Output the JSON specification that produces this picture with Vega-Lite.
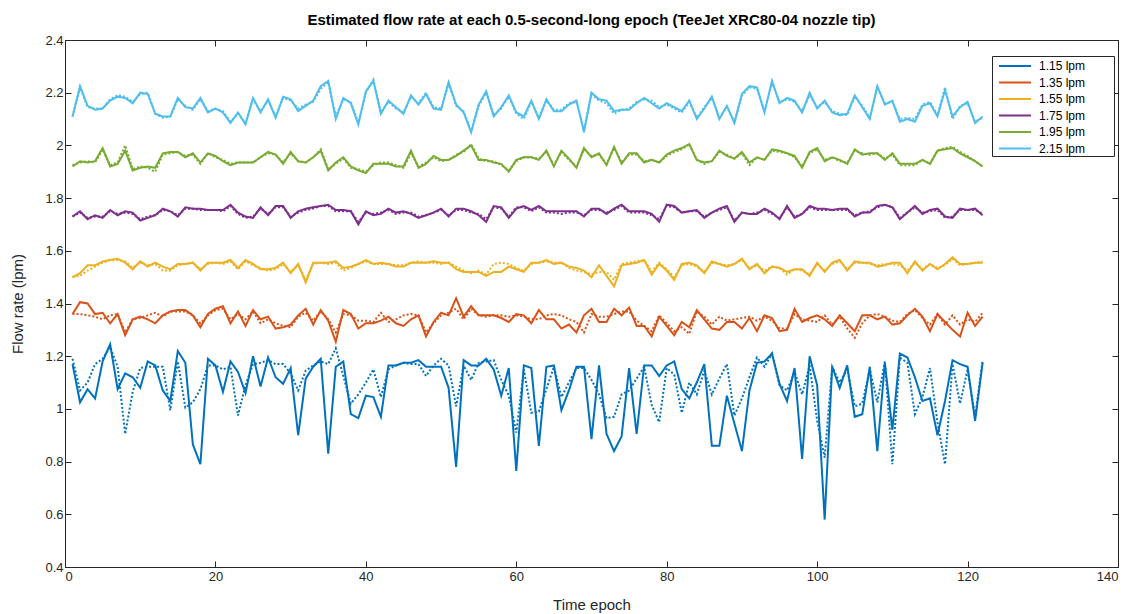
{
"$schema": "https://vega.github.io/schema/vega-lite/v6.json",
"width": 1053, "height": 527,
"autosize": {"type": "none"},
"padding": {"left": 65, "top": 40, "right": 12, "bottom": 47},
"background": "white",
"title": {"text": "Estimated flow rate at each 0.5-second-long epoch (TeeJet XRC80-04 nozzle tip)", "fontSize": 15, "fontWeight": "bold", "font": "Liberation Sans", "color": "black", "offset": 6, "anchor": "middle"},
"config": {
  "view": {"stroke": "#262626", "strokeWidth": 1},
  "axis": {"grid": false, "domainColor": "#262626", "tickColor": "#262626", "labelColor": "#262626", "titleColor": "#262626", "labelFont": "Liberation Sans", "titleFont": "Liberation Sans", "labelFontSize": 13, "titleFontSize": 15, "titleFontWeight": "normal", "tickSize": -6}
},
"data": {"values": [
{"t":1,"s1":1.17,"s2":1.36,"s3":1.50,"s4":1.73,"s5":1.92,"s6":2.11,"d1":1.19,"d2":1.36,"d3":1.50,"d4":1.73,"d5":1.925,"d6":2.11},
{"t":2,"s1":1.025,"s2":1.405,"s3":1.515,"s4":1.75,"s5":1.94,"s6":2.225,"d1":1.07,"d2":1.36,"d3":1.505,"d4":1.745,"d5":1.935,"d6":2.22},
{"t":3,"s1":1.075,"s2":1.40,"s3":1.545,"s4":1.72,"s5":1.935,"s6":2.15,"d1":1.10,"d2":1.355,"d3":1.525,"d4":1.725,"d5":1.94,"d6":2.145},
{"t":4,"s1":1.04,"s2":1.36,"s3":1.545,"s4":1.735,"s5":1.94,"s6":2.135,"d1":1.17,"d2":1.35,"d3":1.54,"d4":1.73,"d5":1.935,"d6":2.14},
{"t":5,"s1":1.18,"s2":1.365,"s3":1.56,"s4":1.725,"s5":1.99,"s6":2.14,"d1":1.19,"d2":1.34,"d3":1.555,"d4":1.73,"d5":1.985,"d6":2.14},
{"t":6,"s1":1.245,"s2":1.325,"s3":1.565,"s4":1.755,"s5":1.92,"s6":2.17,"d1":1.235,"d2":1.355,"d3":1.565,"d4":1.75,"d5":1.925,"d6":2.175},
{"t":7,"s1":1.075,"s2":1.36,"s3":1.57,"s4":1.735,"s5":1.93,"s6":2.185,"d1":1.16,"d2":1.36,"d3":1.565,"d4":1.74,"d5":1.935,"d6":2.19},
{"t":8,"s1":1.135,"s2":1.28,"s3":1.555,"s4":1.75,"s5":1.98,"s6":2.18,"d1":0.905,"d2":1.29,"d3":1.56,"d4":1.745,"d5":2.0,"d6":2.185},
{"t":9,"s1":1.12,"s2":1.34,"s3":1.53,"s4":1.745,"s5":1.905,"s6":2.16,"d1":1.065,"d2":1.34,"d3":1.535,"d4":1.74,"d5":1.91,"d6":2.165},
{"t":10,"s1":1.08,"s2":1.35,"s3":1.56,"s4":1.715,"s5":1.915,"s6":2.2,"d1":1.155,"d2":1.345,"d3":1.555,"d4":1.72,"d5":1.92,"d6":2.195},
{"t":11,"s1":1.18,"s2":1.34,"s3":1.54,"s4":1.725,"s5":1.92,"s6":2.195,"d1":1.16,"d2":1.355,"d3":1.545,"d4":1.73,"d5":1.915,"d6":2.2},
{"t":12,"s1":1.165,"s2":1.325,"s3":1.555,"s4":1.735,"s5":1.915,"s6":2.12,"d1":1.16,"d2":1.365,"d3":1.55,"d4":1.735,"d5":1.90,"d6":2.12},
{"t":13,"s1":1.07,"s2":1.355,"s3":1.54,"s4":1.76,"s5":1.97,"s6":2.11,"d1":1.16,"d2":1.35,"d3":1.525,"d4":1.755,"d5":1.965,"d6":2.105},
{"t":14,"s1":1.03,"s2":1.37,"s3":1.53,"s4":1.75,"s5":1.975,"s6":2.11,"d1":0.995,"d2":1.37,"d3":1.525,"d4":1.75,"d5":1.97,"d6":2.11},
{"t":15,"s1":1.22,"s2":1.375,"s3":1.55,"s4":1.73,"s5":1.975,"s6":2.18,"d1":1.18,"d2":1.37,"d3":1.545,"d4":1.735,"d5":1.975,"d6":2.175},
{"t":16,"s1":1.175,"s2":1.375,"s3":1.55,"s4":1.765,"s5":1.955,"s6":2.145,"d1":1.005,"d2":1.37,"d3":1.55,"d4":1.76,"d5":1.96,"d6":2.15},
{"t":17,"s1":0.865,"s2":1.355,"s3":1.555,"s4":1.76,"s5":1.97,"s6":2.14,"d1":1.025,"d2":1.355,"d3":1.555,"d4":1.76,"d5":1.965,"d6":2.135},
{"t":18,"s1":0.79,"s2":1.31,"s3":1.525,"s4":1.76,"s5":1.935,"s6":2.18,"d1":1.075,"d2":1.325,"d3":1.53,"d4":1.755,"d5":1.93,"d6":2.175},
{"t":19,"s1":1.19,"s2":1.36,"s3":1.555,"s4":1.755,"s5":1.97,"s6":2.125,"d1":1.165,"d2":1.355,"d3":1.55,"d4":1.755,"d5":1.97,"d6":2.13},
{"t":20,"s1":1.165,"s2":1.38,"s3":1.555,"s4":1.755,"s5":1.96,"s6":2.14,"d1":1.165,"d2":1.375,"d3":1.555,"d4":1.755,"d5":1.955,"d6":2.14},
{"t":21,"s1":1.065,"s2":1.39,"s3":1.555,"s4":1.755,"s5":1.94,"s6":2.125,"d1":1.15,"d2":1.38,"d3":1.55,"d4":1.75,"d5":1.945,"d6":2.13},
{"t":22,"s1":1.18,"s2":1.325,"s3":1.565,"s4":1.775,"s5":1.925,"s6":2.085,"d1":1.16,"d2":1.34,"d3":1.56,"d4":1.77,"d5":1.93,"d6":2.09},
{"t":23,"s1":1.14,"s2":1.37,"s3":1.535,"s4":1.745,"s5":1.935,"s6":2.125,"d1":0.975,"d2":1.36,"d3":1.53,"d4":1.74,"d5":1.935,"d6":2.12},
{"t":24,"s1":1.06,"s2":1.315,"s3":1.565,"s4":1.73,"s5":1.935,"s6":2.08,"d1":1.09,"d2":1.34,"d3":1.56,"d4":1.725,"d5":1.935,"d6":2.085},
{"t":25,"s1":1.2,"s2":1.375,"s3":1.55,"s4":1.725,"s5":1.935,"s6":2.18,"d1":1.17,"d2":1.37,"d3":1.545,"d4":1.73,"d5":1.935,"d6":2.175},
{"t":26,"s1":1.085,"s2":1.34,"s3":1.53,"s4":1.765,"s5":1.955,"s6":2.125,"d1":1.175,"d2":1.325,"d3":1.535,"d4":1.76,"d5":1.955,"d6":2.13},
{"t":27,"s1":1.195,"s2":1.35,"s3":1.53,"s4":1.735,"s5":1.975,"s6":2.175,"d1":1.185,"d2":1.34,"d3":1.525,"d4":1.74,"d5":1.97,"d6":2.17},
{"t":28,"s1":1.12,"s2":1.305,"s3":1.535,"s4":1.77,"s5":1.965,"s6":2.105,"d1":1.17,"d2":1.325,"d3":1.53,"d4":1.765,"d5":1.965,"d6":2.11},
{"t":29,"s1":1.095,"s2":1.31,"s3":1.555,"s4":1.77,"s5":1.93,"s6":2.185,"d1":1.17,"d2":1.315,"d3":1.55,"d4":1.765,"d5":1.935,"d6":2.18},
{"t":30,"s1":1.155,"s2":1.32,"s3":1.515,"s4":1.725,"s5":1.975,"s6":2.175,"d1":1.135,"d2":1.31,"d3":1.52,"d4":1.73,"d5":1.97,"d6":2.17},
{"t":31,"s1":0.9,"s2":1.355,"s3":1.55,"s4":1.75,"s5":1.94,"s6":2.13,"d1":1.07,"d2":1.35,"d3":1.545,"d4":1.745,"d5":1.94,"d6":2.14},
{"t":32,"s1":1.115,"s2":1.38,"s3":1.48,"s4":1.76,"s5":1.935,"s6":2.15,"d1":1.145,"d2":1.365,"d3":1.49,"d4":1.755,"d5":1.935,"d6":2.155},
{"t":33,"s1":1.16,"s2":1.32,"s3":1.555,"s4":1.765,"s5":1.955,"s6":2.17,"d1":1.165,"d2":1.335,"d3":1.55,"d4":1.76,"d5":1.955,"d6":2.165},
{"t":34,"s1":1.19,"s2":1.375,"s3":1.555,"s4":1.77,"s5":1.98,"s6":2.225,"d1":1.18,"d2":1.37,"d3":1.555,"d4":1.77,"d5":1.985,"d6":2.215},
{"t":35,"s1":0.83,"s2":1.335,"s3":1.555,"s4":1.775,"s5":1.905,"s6":2.245,"d1":1.17,"d2":1.34,"d3":1.55,"d4":1.77,"d5":1.91,"d6":2.24},
{"t":36,"s1":1.16,"s2":1.255,"s3":1.56,"s4":1.755,"s5":1.935,"s6":2.10,"d1":1.23,"d2":1.29,"d3":1.555,"d4":1.75,"d5":1.93,"d6":2.11},
{"t":37,"s1":1.18,"s2":1.375,"s3":1.535,"s4":1.755,"s5":1.955,"s6":2.18,"d1":1.125,"d2":1.36,"d3":1.525,"d4":1.75,"d5":1.95,"d6":2.175},
{"t":38,"s1":0.98,"s2":1.36,"s3":1.54,"s4":1.75,"s5":1.92,"s6":2.16,"d1":1.02,"d2":1.355,"d3":1.535,"d4":1.75,"d5":1.915,"d6":2.165},
{"t":39,"s1":0.965,"s2":1.305,"s3":1.55,"s4":1.70,"s5":1.905,"s6":2.08,"d1":1.055,"d2":1.335,"d3":1.55,"d4":1.71,"d5":1.91,"d6":2.085},
{"t":40,"s1":1.05,"s2":1.325,"s3":1.565,"s4":1.75,"s5":1.895,"s6":2.205,"d1":1.10,"d2":1.335,"d3":1.56,"d4":1.745,"d5":1.90,"d6":2.2},
{"t":41,"s1":1.045,"s2":1.325,"s3":1.55,"s4":1.735,"s5":1.93,"s6":2.245,"d1":1.15,"d2":1.33,"d3":1.55,"d4":1.74,"d5":1.925,"d6":2.25},
{"t":42,"s1":0.97,"s2":1.335,"s3":1.555,"s4":1.74,"s5":1.93,"s6":2.12,"d1":1.045,"d2":1.365,"d3":1.55,"d4":1.745,"d5":1.935,"d6":2.125},
{"t":43,"s1":1.165,"s2":1.35,"s3":1.55,"s4":1.76,"s5":1.93,"s6":2.17,"d1":1.15,"d2":1.33,"d3":1.55,"d4":1.755,"d5":1.935,"d6":2.165},
{"t":44,"s1":1.165,"s2":1.325,"s3":1.54,"s4":1.745,"s5":1.92,"s6":2.145,"d1":1.165,"d2":1.34,"d3":1.545,"d4":1.74,"d5":1.925,"d6":2.14},
{"t":45,"s1":1.175,"s2":1.315,"s3":1.54,"s4":1.75,"s5":1.92,"s6":2.12,"d1":1.175,"d2":1.355,"d3":1.545,"d4":1.745,"d5":1.915,"d6":2.125},
{"t":46,"s1":1.175,"s2":1.34,"s3":1.555,"s4":1.74,"s5":1.98,"s6":2.19,"d1":1.17,"d2":1.36,"d3":1.555,"d4":1.745,"d5":1.97,"d6":2.185},
{"t":47,"s1":1.185,"s2":1.355,"s3":1.555,"s4":1.725,"s5":1.915,"s6":2.155,"d1":1.17,"d2":1.355,"d3":1.56,"d4":1.73,"d5":1.92,"d6":2.16},
{"t":48,"s1":1.16,"s2":1.275,"s3":1.555,"s4":1.735,"s5":1.93,"s6":2.195,"d1":1.125,"d2":1.29,"d3":1.555,"d4":1.735,"d5":1.935,"d6":2.2},
{"t":49,"s1":1.16,"s2":1.33,"s3":1.56,"s4":1.745,"s5":1.96,"s6":2.14,"d1":1.165,"d2":1.325,"d3":1.555,"d4":1.745,"d5":1.955,"d6":2.145},
{"t":50,"s1":1.16,"s2":1.365,"s3":1.555,"s4":1.76,"s5":1.945,"s6":2.135,"d1":1.19,"d2":1.355,"d3":1.55,"d4":1.755,"d5":1.94,"d6":2.14},
{"t":51,"s1":1.08,"s2":1.355,"s3":1.555,"s4":1.73,"s5":1.945,"s6":2.24,"d1":1.165,"d2":1.365,"d3":1.555,"d4":1.735,"d5":1.945,"d6":2.235},
{"t":52,"s1":0.78,"s2":1.42,"s3":1.53,"s4":1.76,"s5":1.96,"s6":2.155,"d1":1.01,"d2":1.38,"d3":1.54,"d4":1.755,"d5":1.965,"d6":2.15},
{"t":53,"s1":1.185,"s2":1.35,"s3":1.52,"s4":1.76,"s5":1.98,"s6":2.125,"d1":1.165,"d2":1.34,"d3":1.525,"d4":1.755,"d5":1.975,"d6":2.13},
{"t":54,"s1":1.165,"s2":1.39,"s3":1.52,"s4":1.75,"s5":2.0,"s6":2.05,"d1":1.11,"d2":1.38,"d3":1.515,"d4":1.745,"d5":2.005,"d6":2.055},
{"t":55,"s1":1.165,"s2":1.355,"s3":1.52,"s4":1.735,"s5":1.945,"s6":2.155,"d1":1.175,"d2":1.355,"d3":1.525,"d4":1.74,"d5":1.95,"d6":2.15},
{"t":56,"s1":1.19,"s2":1.355,"s3":1.505,"s4":1.71,"s5":1.945,"s6":2.205,"d1":1.18,"d2":1.35,"d3":1.51,"d4":1.72,"d5":1.94,"d6":2.2},
{"t":57,"s1":1.15,"s2":1.355,"s3":1.52,"s4":1.77,"s5":1.935,"s6":2.11,"d1":1.185,"d2":1.355,"d3":1.55,"d4":1.765,"d5":1.94,"d6":2.115},
{"t":58,"s1":1.05,"s2":1.345,"s3":1.52,"s4":1.765,"s5":1.93,"s6":2.145,"d1":1.11,"d2":1.355,"d3":1.555,"d4":1.76,"d5":1.925,"d6":2.14},
{"t":59,"s1":1.155,"s2":1.33,"s3":1.54,"s4":1.725,"s5":1.90,"s6":2.19,"d1":1.05,"d2":1.35,"d3":1.55,"d4":1.73,"d5":1.905,"d6":2.185},
{"t":60,"s1":0.765,"s2":1.36,"s3":1.53,"s4":1.76,"s5":1.945,"s6":2.125,"d1":0.91,"d2":1.355,"d3":1.535,"d4":1.765,"d5":1.94,"d6":2.12},
{"t":61,"s1":1.165,"s2":1.355,"s3":1.52,"s4":1.77,"s5":1.955,"s6":2.11,"d1":1.15,"d2":1.35,"d3":1.525,"d4":1.765,"d5":1.955,"d6":2.10},
{"t":62,"s1":1.155,"s2":1.325,"s3":1.555,"s4":1.755,"s5":1.955,"s6":2.17,"d1":0.985,"d2":1.34,"d3":1.55,"d4":1.75,"d5":1.955,"d6":2.165},
{"t":63,"s1":0.86,"s2":1.375,"s3":1.555,"s4":1.77,"s5":1.945,"s6":2.10,"d1":0.99,"d2":1.34,"d3":1.555,"d4":1.765,"d5":1.95,"d6":2.105},
{"t":64,"s1":1.16,"s2":1.34,"s3":1.565,"s4":1.75,"s5":1.98,"s6":2.175,"d1":1.075,"d2":1.355,"d3":1.56,"d4":1.745,"d5":1.975,"d6":2.17},
{"t":65,"s1":1.165,"s2":1.34,"s3":1.55,"s4":1.75,"s5":1.92,"s6":2.13,"d1":1.16,"d2":1.36,"d3":1.555,"d4":1.745,"d5":1.925,"d6":2.135},
{"t":66,"s1":0.995,"s2":1.305,"s3":1.555,"s4":1.75,"s5":1.98,"s6":2.13,"d1":1.045,"d2":1.355,"d3":1.555,"d4":1.74,"d5":1.975,"d6":2.135},
{"t":67,"s1":1.07,"s2":1.32,"s3":1.54,"s4":1.75,"s5":1.95,"s6":2.155,"d1":1.10,"d2":1.34,"d3":1.535,"d4":1.745,"d5":1.945,"d6":2.16},
{"t":68,"s1":1.16,"s2":1.29,"s3":1.535,"s4":1.75,"s5":1.915,"s6":2.17,"d1":1.155,"d2":1.33,"d3":1.525,"d4":1.745,"d5":1.92,"d6":2.165},
{"t":69,"s1":1.16,"s2":1.355,"s3":1.525,"s4":1.73,"s5":1.99,"s6":2.05,"d1":1.155,"d2":1.29,"d3":1.52,"d4":1.735,"d5":1.985,"d6":2.06},
{"t":70,"s1":0.885,"s2":1.38,"s3":1.50,"s4":1.76,"s5":1.955,"s6":2.2,"d1":1.11,"d2":1.36,"d3":1.51,"d4":1.755,"d5":1.96,"d6":2.195},
{"t":71,"s1":1.165,"s2":1.33,"s3":1.545,"s4":1.76,"s5":1.97,"s6":2.175,"d1":1.055,"d2":1.35,"d3":1.52,"d4":1.755,"d5":1.965,"d6":2.17},
{"t":72,"s1":0.905,"s2":1.33,"s3":1.505,"s4":1.74,"s5":1.925,"s6":2.17,"d1":0.965,"d2":1.35,"d3":1.52,"d4":1.745,"d5":1.93,"d6":2.16},
{"t":73,"s1":0.84,"s2":1.38,"s3":1.465,"s4":1.76,"s5":1.995,"s6":2.13,"d1":0.97,"d2":1.36,"d3":1.49,"d4":1.755,"d5":1.99,"d6":2.12},
{"t":74,"s1":0.895,"s2":1.355,"s3":1.545,"s4":1.775,"s5":1.93,"s6":2.135,"d1":1.055,"d2":1.37,"d3":1.55,"d4":1.77,"d5":1.935,"d6":2.135},
{"t":75,"s1":1.155,"s2":1.385,"s3":1.55,"s4":1.75,"s5":1.97,"s6":2.135,"d1":1.07,"d2":1.37,"d3":1.555,"d4":1.745,"d5":1.965,"d6":2.14},
{"t":76,"s1":0.905,"s2":1.315,"s3":1.555,"s4":1.75,"s5":1.97,"s6":2.16,"d1":1.115,"d2":1.335,"d3":1.56,"d4":1.745,"d5":1.965,"d6":2.165},
{"t":77,"s1":1.165,"s2":1.315,"s3":1.565,"s4":1.75,"s5":1.935,"s6":2.18,"d1":1.16,"d2":1.315,"d3":1.565,"d4":1.745,"d5":1.94,"d6":2.175},
{"t":78,"s1":1.165,"s2":1.275,"s3":1.51,"s4":1.74,"s5":1.945,"s6":2.16,"d1":1.015,"d2":1.295,"d3":1.52,"d4":1.735,"d5":1.945,"d6":2.17},
{"t":79,"s1":1.125,"s2":1.35,"s3":1.55,"s4":1.71,"s5":1.935,"s6":2.14,"d1":0.95,"d2":1.355,"d3":1.555,"d4":1.72,"d5":1.935,"d6":2.145},
{"t":80,"s1":1.165,"s2":1.315,"s3":1.525,"s4":1.775,"s5":1.965,"s6":2.16,"d1":1.155,"d2":1.325,"d3":1.53,"d4":1.77,"d5":1.96,"d6":2.155},
{"t":81,"s1":1.18,"s2":1.28,"s3":1.49,"s4":1.77,"s5":1.98,"s6":2.145,"d1":1.13,"d2":1.295,"d3":1.5,"d4":1.765,"d5":1.975,"d6":2.14},
{"t":82,"s1":1.075,"s2":1.33,"s3":1.55,"s4":1.745,"s5":1.99,"s6":2.13,"d1":0.985,"d2":1.31,"d3":1.545,"d4":1.745,"d5":1.985,"d6":2.125},
{"t":83,"s1":1.04,"s2":1.31,"s3":1.555,"s4":1.75,"s5":2.005,"s6":2.17,"d1":1.10,"d2":1.285,"d3":1.55,"d4":1.75,"d5":2.005,"d6":2.165},
{"t":84,"s1":1.10,"s2":1.375,"s3":1.545,"s4":1.755,"s5":1.945,"s6":2.10,"d1":1.055,"d2":1.37,"d3":1.54,"d4":1.75,"d5":1.945,"d6":2.105},
{"t":85,"s1":1.17,"s2":1.34,"s3":1.515,"s4":1.725,"s5":1.935,"s6":2.14,"d1":1.145,"d2":1.35,"d3":1.52,"d4":1.73,"d5":1.93,"d6":2.145},
{"t":86,"s1":0.86,"s2":1.305,"s3":1.56,"s4":1.745,"s5":1.94,"s6":2.185,"d1":1.055,"d2":1.32,"d3":1.555,"d4":1.745,"d5":1.94,"d6":2.18},
{"t":87,"s1":0.86,"s2":1.30,"s3":1.55,"s4":1.76,"s5":1.98,"s6":2.10,"d1":1.115,"d2":1.35,"d3":1.55,"d4":1.755,"d5":1.975,"d6":2.105},
{"t":88,"s1":1.05,"s2":1.33,"s3":1.54,"s4":1.77,"s5":1.96,"s6":2.15,"d1":1.17,"d2":1.335,"d3":1.545,"d4":1.765,"d5":1.965,"d6":2.145},
{"t":89,"s1":0.945,"s2":1.33,"s3":1.55,"s4":1.71,"s5":1.95,"s6":2.085,"d1":0.975,"d2":1.34,"d3":1.55,"d4":1.715,"d5":1.95,"d6":2.09},
{"t":90,"s1":0.84,"s2":1.305,"s3":1.57,"s4":1.745,"s5":1.975,"s6":2.195,"d1":1.04,"d2":1.345,"d3":1.565,"d4":1.745,"d5":1.97,"d6":2.19},
{"t":91,"s1":1.07,"s2":1.345,"s3":1.53,"s4":1.74,"s5":1.935,"s6":2.225,"d1":1.12,"d2":1.35,"d3":1.535,"d4":1.74,"d5":1.925,"d6":2.22},
{"t":92,"s1":1.175,"s2":1.295,"s3":1.55,"s4":1.74,"s5":1.955,"s6":2.22,"d1":1.195,"d2":1.335,"d3":1.545,"d4":1.745,"d5":1.955,"d6":2.215},
{"t":93,"s1":1.18,"s2":1.355,"s3":1.515,"s4":1.76,"s5":1.945,"s6":2.125,"d1":1.16,"d2":1.35,"d3":1.525,"d4":1.755,"d5":1.945,"d6":2.13},
{"t":94,"s1":1.21,"s2":1.345,"s3":1.54,"s4":1.745,"s5":1.985,"s6":2.245,"d1":1.21,"d2":1.335,"d3":1.54,"d4":1.74,"d5":1.98,"d6":2.24},
{"t":95,"s1":1.095,"s2":1.295,"s3":1.535,"s4":1.72,"s5":1.98,"s6":2.16,"d1":1.09,"d2":1.305,"d3":1.535,"d4":1.725,"d5":1.975,"d6":2.165},
{"t":96,"s1":1.03,"s2":1.30,"s3":1.52,"s4":1.77,"s5":1.97,"s6":2.18,"d1":1.07,"d2":1.305,"d3":1.51,"d4":1.765,"d5":1.97,"d6":2.175},
{"t":97,"s1":1.155,"s2":1.38,"s3":1.53,"s4":1.725,"s5":1.96,"s6":2.17,"d1":1.14,"d2":1.36,"d3":1.53,"d4":1.73,"d5":1.955,"d6":2.165},
{"t":98,"s1":0.81,"s2":1.33,"s3":1.53,"s4":1.74,"s5":1.915,"s6":2.125,"d1":1.055,"d2":1.34,"d3":1.525,"d4":1.74,"d5":1.92,"d6":2.13},
{"t":99,"s1":1.2,"s2":1.345,"s3":1.505,"s4":1.77,"s5":1.975,"s6":2.2,"d1":1.165,"d2":1.335,"d3":1.51,"d4":1.765,"d5":1.97,"d6":2.19},
{"t":100,"s1":1.09,"s2":1.355,"s3":1.555,"s4":1.76,"s5":1.99,"s6":2.14,"d1":0.955,"d2":1.33,"d3":1.55,"d4":1.755,"d5":1.985,"d6":2.145},
{"t":101,"s1":0.58,"s2":1.34,"s3":1.52,"s4":1.76,"s5":1.94,"s6":2.17,"d1":0.815,"d2":1.355,"d3":1.525,"d4":1.755,"d5":1.945,"d6":2.165},
{"t":102,"s1":1.16,"s2":1.315,"s3":1.555,"s4":1.755,"s5":1.955,"s6":2.125,"d1":1.16,"d2":1.32,"d3":1.55,"d4":1.755,"d5":1.955,"d6":2.13},
{"t":103,"s1":1.08,"s2":1.355,"s3":1.565,"s4":1.76,"s5":1.945,"s6":2.115,"d1":1.10,"d2":1.35,"d3":1.56,"d4":1.755,"d5":1.94,"d6":2.12},
{"t":104,"s1":1.165,"s2":1.325,"s3":1.525,"s4":1.76,"s5":1.93,"s6":2.12,"d1":1.15,"d2":1.305,"d3":1.53,"d4":1.755,"d5":1.935,"d6":2.115},
{"t":105,"s1":0.97,"s2":1.295,"s3":1.56,"s4":1.73,"s5":1.985,"s6":2.19,"d1":1.01,"d2":1.27,"d3":1.555,"d4":1.735,"d5":1.98,"d6":2.185},
{"t":106,"s1":0.98,"s2":1.355,"s3":1.555,"s4":1.745,"s5":1.965,"s6":2.145,"d1":1.02,"d2":1.325,"d3":1.555,"d4":1.745,"d5":1.97,"d6":2.15},
{"t":107,"s1":1.16,"s2":1.355,"s3":1.555,"s4":1.745,"s5":1.97,"s6":2.10,"d1":1.15,"d2":1.355,"d3":1.55,"d4":1.75,"d5":1.965,"d6":2.105},
{"t":108,"s1":0.84,"s2":1.34,"s3":1.54,"s4":1.77,"s5":1.97,"s6":2.225,"d1":1.025,"d2":1.36,"d3":1.545,"d4":1.765,"d5":1.97,"d6":2.22},
{"t":109,"s1":1.175,"s2":1.35,"s3":1.545,"s4":1.775,"s5":1.945,"s6":2.155,"d1":1.18,"d2":1.35,"d3":1.55,"d4":1.775,"d5":1.95,"d6":2.16},
{"t":110,"s1":0.92,"s2":1.32,"s3":1.555,"s4":1.765,"s5":1.97,"s6":2.17,"d1":0.79,"d2":1.335,"d3":1.55,"d4":1.765,"d5":1.965,"d6":2.165},
{"t":111,"s1":1.21,"s2":1.325,"s3":1.555,"s4":1.72,"s5":1.93,"s6":2.09,"d1":1.195,"d2":1.33,"d3":1.545,"d4":1.725,"d5":1.925,"d6":2.10},
{"t":112,"s1":1.195,"s2":1.355,"s3":1.515,"s4":1.745,"s5":1.93,"s6":2.10,"d1":1.175,"d2":1.36,"d3":1.525,"d4":1.745,"d5":1.925,"d6":2.105},
{"t":113,"s1":1.12,"s2":1.38,"s3":1.56,"s4":1.77,"s5":1.93,"s6":2.09,"d1":0.98,"d2":1.375,"d3":1.555,"d4":1.765,"d5":1.925,"d6":2.10},
{"t":114,"s1":1.03,"s2":1.35,"s3":1.525,"s4":1.74,"s5":1.945,"s6":2.15,"d1":1.045,"d2":1.345,"d3":1.53,"d4":1.745,"d5":1.945,"d6":2.155},
{"t":115,"s1":1.04,"s2":1.295,"s3":1.55,"s4":1.755,"s5":1.93,"s6":2.16,"d1":1.155,"d2":1.32,"d3":1.55,"d4":1.75,"d5":1.93,"d6":2.165},
{"t":116,"s1":0.90,"s2":1.36,"s3":1.53,"s4":1.76,"s5":1.98,"s6":2.11,"d1":0.95,"d2":1.36,"d3":1.535,"d4":1.755,"d5":1.98,"d6":2.115},
{"t":117,"s1":1.03,"s2":1.33,"s3":1.55,"s4":1.73,"s5":1.985,"s6":2.21,"d1":0.79,"d2":1.32,"d3":1.545,"d4":1.725,"d5":1.99,"d6":2.22},
{"t":118,"s1":1.185,"s2":1.30,"s3":1.575,"s4":1.725,"s5":1.99,"s6":2.11,"d1":1.17,"d2":1.355,"d3":1.57,"d4":1.73,"d5":1.995,"d6":2.10},
{"t":119,"s1":1.17,"s2":1.275,"s3":1.55,"s4":1.76,"s5":1.97,"s6":2.145,"d1":1.02,"d2":1.32,"d3":1.545,"d4":1.755,"d5":1.975,"d6":2.15},
{"t":120,"s1":1.16,"s2":1.365,"s3":1.55,"s4":1.755,"s5":1.955,"s6":2.165,"d1":1.15,"d2":1.34,"d3":1.55,"d4":1.755,"d5":1.96,"d6":2.16},
{"t":121,"s1":0.955,"s2":1.315,"s3":1.555,"s4":1.76,"s5":1.94,"s6":2.085,"d1":0.97,"d2":1.33,"d3":1.555,"d4":1.755,"d5":1.94,"d6":2.09},
{"t":122,"s1":1.175,"s2":1.35,"s3":1.555,"s4":1.735,"s5":1.92,"s6":2.11,"d1":1.185,"d2":1.365,"d3":1.56,"d4":1.74,"d5":1.92,"d6":2.105}
]},
"layer": [
  {
    "transform": [{"fold": ["d1","d2","d3","d4","d5","d6"], "as": ["key","v"]}],
    "mark": {"type": "line", "strokeWidth": 2, "strokeDash": [2,2], "clip": true},
    "encoding": {
      "x": {"field": "t", "type": "quantitative", "scale": {"domain": [0,140], "nice": false},
            "axis": {"values": [0,20,40,60,80,100,120,140], "title": "Time epoch", "labelPadding": 9, "titlePadding": 14}},
      "y": {"field": "v", "type": "quantitative", "scale": {"domain": [0.4,2.4], "nice": false, "zero": false},
            "axis": {"values": [0.4,0.6,0.8,1,1.2,1.4,1.6,1.8,2,2.2,2.4], "format": "~g", "title": "Flow rate (lpm)", "labelPadding": 8, "titlePadding": 19}},
      "color": {"field": "key", "type": "nominal", "scale": {"domain": ["d1","d2","d3","d4","d5","d6"], "range": ["#0072BD","#D95319","#EDB120","#7E2F8E","#77AC30","#4DBEEE"]}, "legend": null},
      "detail": {"field": "key"}
    }
  },
  {
    "transform": [{"fold": ["s1","s2","s3","s4","s5","s6"], "as": ["key","v"]}],
    "mark": {"type": "line", "strokeWidth": 2, "clip": true},
    "encoding": {
      "x": {"field": "t", "type": "quantitative", "axis": {"orient": "top", "values": [0,20,40,60,80,100,120,140], "labels": false, "title": null, "domain": false}},
      "y": {"field": "v", "type": "quantitative", "axis": {"orient": "right", "values": [0.4,0.6,0.8,1,1.2,1.4,1.6,1.8,2,2.2,2.4], "labels": false, "title": null, "domain": false}},
      "color": {"field": "key", "type": "nominal", "scale": {"domain": ["s1","s2","s3","s4","s5","s6"], "range": ["#0072BD","#D95319","#EDB120","#7E2F8E","#77AC30","#4DBEEE"]},
        "legend": {"title": null, "orient": "none", "legendX": 927, "legendY": 16, "symbolType": "M-0.375,0H3.625", "symbolSize": 256, "symbolStrokeWidth": 2, "labelOffset": 28, "labelFontSize": 12, "labelFont": "Liberation Sans", "labelColor": "black", "rowPadding": 1.5, "padding": 1, "strokeColor": "#262626", "fillColor": "white",
          "labelExpr": "{'s1':'1.15 lpm','s2':'1.35 lpm','s3':'1.55 lpm','s4':'1.75 lpm','s5':'1.95 lpm','s6':'2.15 lpm'}[datum.label] + '\u2800\u2800\u2800'"}}
    }
  }
],
"resolve": {"scale": {"color": "independent"}, "axis": {"x": "independent", "y": "independent"}}
}
